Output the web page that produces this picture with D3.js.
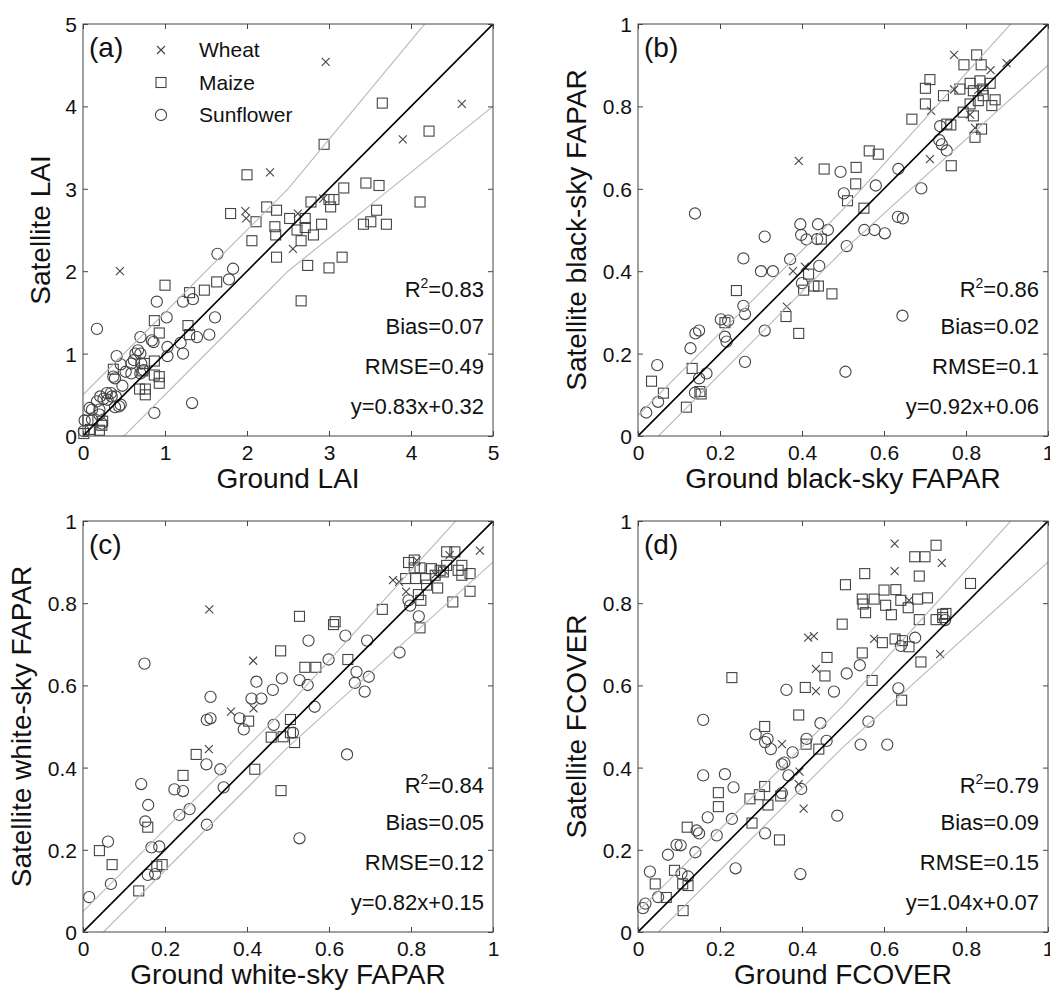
<!DOCTYPE html>
<html>
<head>
<meta charset="utf-8">
<script src="https://cdn.jsdelivr.net/npm/d3@7"></script>
<style>
  html, body { margin: 0; padding: 0; background: #fff; }
  svg { display: block; font-family: "Liberation Sans", Arial, sans-serif; }
</style>
</head>
<body>
<svg id="chart" width="1050" height="994"></svg>
<script>
// ---------------- DATA ----------------
const laiTicks = [0, 1, 2, 3, 4, 5];
const fracTicks = [0, 0.2, 0.4, 0.6, 0.8, 1];
const seriesNames = ["Wheat", "Maize", "Sunflower"];

// (a) LAI  [ground, satellite]
const laiWheat = [[0.45,2.0],[2.96,4.54],[4.62,4.03],[3.90,3.60],[2.28,3.20],[1.98,2.73],[1.99,2.64],[2.62,2.70],[2.56,2.27],[2.93,2.88]];
const laiMaize = [[3.65,4.04],[4.22,3.70],[2.94,3.54],[2.00,3.17],[3.45,3.07],[3.61,3.04],[3.18,3.01],[4.11,2.84],[2.78,2.84],[3.00,2.87],[3.06,2.87],[3.02,2.78],[2.24,2.78],[2.36,2.74],[1.80,2.70],[2.11,2.60],[2.52,2.64],[2.71,2.64],[2.61,2.50],[2.71,2.53],[2.91,2.57],[2.34,2.54],[2.35,2.44],[2.66,2.37],[2.81,2.44],[2.06,2.37],[3.58,2.74],[3.51,2.60],[3.42,2.57],[3.70,2.57],[2.36,2.17],[3.16,2.17],[2.74,2.07],[3.00,2.04],[2.66,1.64],[1.63,1.87],[1.48,1.77],[1.30,1.74],[1.00,1.83],[1.28,1.34],[1.30,1.23],[0.87,1.40],[0.93,1.25],[0.37,0.81],[0.69,0.57],[0.76,0.57],[0.76,0.50],[0.75,0.88],[0.73,0.79],[0.87,0.74],[0.93,0.72],[0.93,0.64],[0.87,0.91],[0.06,0.19],[0.09,0.08],[0.20,0.07],[0.23,0.13],[0.24,0.18],[0.01,0.03]];
const laiSunflower = [[0.17,1.30],[1.64,2.21],[1.83,2.03],[1.78,1.90],[0.90,1.63],[1.22,1.63],[1.34,1.66],[1.02,1.44],[1.61,1.44],[1.54,1.23],[1.39,1.20],[1.19,1.13],[1.22,1.00],[1.03,1.08],[1.03,0.97],[0.86,1.14],[0.70,1.20],[0.84,1.16],[0.41,0.97],[0.67,1.04],[0.64,1.00],[0.70,1.00],[0.62,0.92],[0.59,0.88],[0.46,0.87],[0.71,0.88],[0.59,0.76],[0.70,0.76],[0.74,0.80],[0.39,0.70],[0.48,0.61],[0.46,0.38],[0.39,0.35],[0.87,0.28],[1.33,0.40],[0.37,0.72],[0.29,0.52],[0.35,0.48],[0.40,0.48],[0.21,0.48],[0.17,0.42],[0.30,0.44],[0.08,0.34],[0.20,0.32],[0.44,0.36],[0.20,0.26],[0.11,0.20],[0.23,0.15],[0.02,0.19],[0.01,0.06],[0.11,0.32],[0.34,0.52],[0.25,0.45],[0.52,0.78]];

// (b) black-sky FAPAR
const bsWheat = [[0.392,0.668],[0.771,0.925],[0.899,0.905],[0.860,0.888],[0.771,0.841],[0.715,0.789],[0.712,0.672],[0.822,0.748],[0.378,0.400],[0.407,0.411],[0.363,0.314],[0.830,0.840],[0.810,0.780]];
const bsMaize = [[0.826,0.925],[0.795,0.901],[0.837,0.901],[0.712,0.865],[0.701,0.844],[0.745,0.826],[0.701,0.806],[0.668,0.769],[0.785,0.842],[0.810,0.856],[0.834,0.862],[0.859,0.856],[0.818,0.838],[0.841,0.842],[0.810,0.806],[0.830,0.814],[0.863,0.802],[0.871,0.816],[0.842,0.826],[0.793,0.786],[0.818,0.777],[0.838,0.745],[0.822,0.725],[0.763,0.755],[0.753,0.757],[0.764,0.656],[0.564,0.692],[0.586,0.684],[0.454,0.648],[0.532,0.652],[0.531,0.612],[0.511,0.571],[0.551,0.553],[0.447,0.478],[0.416,0.393],[0.404,0.354],[0.429,0.364],[0.440,0.364],[0.473,0.345],[0.240,0.353],[0.361,0.290],[0.392,0.249],[0.212,0.275],[0.132,0.164],[0.033,0.133],[0.062,0.104],[0.118,0.070],[0.151,0.108],[0.154,0.102]];
const bsSunflower = [[0.139,0.540],[0.737,0.752],[0.735,0.718],[0.741,0.708],[0.753,0.693],[0.635,0.648],[0.494,0.641],[0.691,0.601],[0.580,0.608],[0.502,0.589],[0.396,0.514],[0.439,0.514],[0.463,0.500],[0.398,0.488],[0.411,0.477],[0.437,0.478],[0.552,0.500],[0.577,0.500],[0.602,0.492],[0.634,0.532],[0.646,0.528],[0.309,0.484],[0.509,0.461],[0.257,0.431],[0.371,0.429],[0.300,0.400],[0.329,0.400],[0.442,0.413],[0.400,0.371],[0.257,0.316],[0.261,0.296],[0.202,0.283],[0.220,0.280],[0.212,0.241],[0.216,0.229],[0.645,0.292],[0.309,0.256],[0.140,0.249],[0.149,0.256],[0.128,0.213],[0.261,0.180],[0.506,0.156],[0.047,0.172],[0.167,0.152],[0.149,0.140],[0.139,0.105],[0.049,0.083],[0.020,0.057]];

// (c) white-sky FAPAR
const wsWheat = [[0.308,0.785],[0.415,0.660],[0.361,0.536],[0.416,0.544],[0.307,0.445],[0.968,0.928],[0.756,0.856],[0.771,0.852],[0.788,0.828],[0.814,0.904],[0.894,0.917],[0.860,0.870],[0.880,0.880]];
const wsMaize = [[0.528,0.768],[0.615,0.755],[0.611,0.748],[0.730,0.785],[0.482,0.684],[0.541,0.644],[0.568,0.644],[0.646,0.663],[0.794,0.899],[0.808,0.905],[0.808,0.886],[0.822,0.886],[0.787,0.860],[0.811,0.860],[0.836,0.860],[0.838,0.844],[0.818,0.821],[0.824,0.807],[0.865,0.837],[0.859,0.868],[0.879,0.876],[0.887,0.892],[0.887,0.925],[0.907,0.925],[0.924,0.892],[0.924,0.868],[0.944,0.872],[0.944,0.829],[0.902,0.803],[0.822,0.740],[0.871,0.880],[0.850,0.884],[0.915,0.880],[0.276,0.432],[0.244,0.381],[0.419,0.396],[0.483,0.344],[0.459,0.474],[0.488,0.475],[0.506,0.485],[0.506,0.517],[0.516,0.461],[0.404,0.513],[0.158,0.255],[0.040,0.198],[0.071,0.164],[0.180,0.160],[0.193,0.164],[0.136,0.100]];
const wsSunflower = [[0.150,0.653],[0.640,0.721],[0.550,0.709],[0.693,0.709],[0.599,0.663],[0.667,0.633],[0.663,0.606],[0.697,0.621],[0.687,0.585],[0.772,0.680],[0.794,0.807],[0.798,0.794],[0.819,0.768],[0.528,0.613],[0.548,0.601],[0.485,0.617],[0.423,0.609],[0.463,0.589],[0.411,0.568],[0.435,0.568],[0.382,0.520],[0.392,0.493],[0.465,0.504],[0.565,0.548],[0.512,0.485],[0.311,0.572],[0.302,0.516],[0.311,0.520],[0.644,0.432],[0.528,0.228],[0.301,0.408],[0.335,0.396],[0.343,0.352],[0.223,0.347],[0.244,0.343],[0.260,0.299],[0.235,0.285],[0.302,0.261],[0.142,0.360],[0.159,0.309],[0.152,0.269],[0.167,0.206],[0.186,0.208],[0.158,0.139],[0.061,0.220],[0.068,0.117],[0.015,0.085],[0.176,0.141]];

// (d) FCOVER
const fcWheat = [[0.626,0.945],[0.626,0.878],[0.741,0.898],[0.415,0.716],[0.429,0.720],[0.576,0.713],[0.434,0.640],[0.434,0.586],[0.661,0.807],[0.737,0.676],[0.351,0.457],[0.394,0.390],[0.392,0.360],[0.404,0.300]];
const fcMaize = [[0.727,0.941],[0.675,0.913],[0.700,0.913],[0.553,0.872],[0.686,0.866],[0.506,0.845],[0.811,0.848],[0.600,0.832],[0.629,0.833],[0.547,0.810],[0.576,0.810],[0.604,0.795],[0.641,0.807],[0.682,0.810],[0.706,0.813],[0.549,0.798],[0.555,0.777],[0.618,0.772],[0.659,0.789],[0.686,0.760],[0.727,0.760],[0.743,0.773],[0.751,0.775],[0.743,0.765],[0.498,0.749],[0.461,0.668],[0.547,0.679],[0.596,0.704],[0.627,0.713],[0.645,0.709],[0.661,0.694],[0.690,0.657],[0.456,0.623],[0.571,0.612],[0.408,0.595],[0.229,0.619],[0.643,0.564],[0.392,0.528],[0.309,0.500],[0.410,0.457],[0.441,0.445],[0.309,0.354],[0.296,0.334],[0.273,0.324],[0.317,0.309],[0.348,0.331],[0.196,0.339],[0.196,0.305],[0.278,0.265],[0.345,0.224],[0.120,0.255],[0.089,0.150],[0.042,0.117],[0.069,0.084],[0.109,0.117],[0.122,0.113],[0.110,0.052]];
const fcSunflower = [[0.159,0.516],[0.362,0.589],[0.478,0.585],[0.509,0.629],[0.541,0.649],[0.676,0.716],[0.641,0.696],[0.749,0.759],[0.635,0.593],[0.562,0.512],[0.543,0.456],[0.608,0.456],[0.445,0.508],[0.460,0.465],[0.411,0.470],[0.287,0.481],[0.310,0.462],[0.316,0.470],[0.324,0.445],[0.377,0.437],[0.351,0.408],[0.357,0.412],[0.367,0.381],[0.351,0.338],[0.398,0.348],[0.159,0.381],[0.212,0.384],[0.233,0.352],[0.170,0.279],[0.229,0.275],[0.192,0.235],[0.310,0.240],[0.486,0.283],[0.238,0.155],[0.396,0.141],[0.143,0.247],[0.149,0.240],[0.140,0.194],[0.073,0.188],[0.094,0.212],[0.104,0.211],[0.029,0.147],[0.106,0.142],[0.122,0.135],[0.049,0.085],[0.018,0.069],[0.012,0.058]];

// statistics text per panel: R2, Bias, RMSE, fit
const statsA = ["0.83", "0.07", "0.49", "y=0.83x+0.32"];
const statsB = ["0.86", "0.02", "0.1", "y=0.92x+0.06"];
const statsC = ["0.84", "0.05", "0.12", "y=0.82x+0.15"];
const statsD = ["0.79", "0.09", "0.15", "y=1.04x+0.07"];

// uncertainty envelope: max(absolute, relative * x)
const envelopeLAI = [0.5, 0.2];
const envelopeFrac = [0.05, 0.1];

// ---------------- LAYOUT ----------------
const panels = [
  { tag: "(a)", left: 83,  top: 24,  w: 410, h: 412, max: 5, ticks: laiTicks,
    xLabel: "Ground LAI", yLabel: "Satellite LAI", yLabelOff: 33,
    series: [laiWheat, laiMaize, laiSunflower], stats: statsA, env: envelopeLAI, legend: true },
  { tag: "(b)", left: 638, top: 24,  w: 410, h: 412, max: 1, ticks: fracTicks,
    xLabel: "Ground black-sky FAPAR", yLabel: "Satellite black-sky FAPAR", yLabelOff: 52,
    series: [bsWheat, bsMaize, bsSunflower], stats: statsB, env: envelopeFrac },
  { tag: "(c)", left: 83,  top: 521, w: 410, h: 411, max: 1, ticks: fracTicks,
    xLabel: "Ground white-sky FAPAR", yLabel: "Satellite white-sky FAPAR", yLabelOff: 52,
    series: [wsWheat, wsMaize, wsSunflower], stats: statsC, env: envelopeFrac },
  { tag: "(d)", left: 638, top: 521, w: 410, h: 411, max: 1, ticks: fracTicks,
    xLabel: "Ground FCOVER", yLabel: "Satellite FCOVER", yLabelOff: 52,
    series: [fcWheat, fcMaize, fcSunflower], stats: statsD, env: envelopeFrac }
];

const svg = d3.select("#chart");
const markColor = "#444";
const textColor = "#111";

function drawMarker(sel, type) {
  if (type === 0) {
    sel.append("path").attr("d", "M-4,-4L4,4M-4,4L4,-4")
      .attr("stroke", markColor).attr("stroke-width", 1.1).attr("fill", "none");
  } else if (type === 1) {
    sel.append("rect").attr("x", -5).attr("y", -5).attr("width", 10).attr("height", 10)
      .attr("stroke", markColor).attr("stroke-width", 1.1).attr("fill", "none");
  } else {
    sel.append("circle").attr("r", 5.6)
      .attr("stroke", markColor).attr("stroke-width", 1.1).attr("fill", "none");
  }
}

panels.forEach((p, idx) => {
  const x = d3.scaleLinear().domain([0, p.max]).range([p.left, p.left + p.w]);
  const y = d3.scaleLinear().domain([0, p.max]).range([p.top + p.h, p.top]);
  const g = svg.append("g");

  const clipId = "clip" + idx;
  svg.append("defs").append("clipPath").attr("id", clipId)
    .append("rect").attr("x", p.left).attr("y", p.top).attr("width", p.w).attr("height", p.h);

  // markers
  p.series.forEach((arr, si) => {
    g.append("g").selectAll("g").data(arr).join("g")
      .attr("transform", d => `translate(${x(d[0])},${y(d[1])})`)
      .each(function () { drawMarker(d3.select(this), si); });
  });

  // reference lines
  const lines = g.append("g").attr("clip-path", `url(#${clipId})`);
  const [abs, rel] = p.env;
  const brk = abs / rel;
  const xs = [0, brk, p.max];
  const line = d3.line().x(d => x(d[0])).y(d => y(d[1]));
  lines.append("path").attr("d", line(xs.map(v => [v, v + Math.max(abs, rel * v)])))
    .attr("stroke", "#b8b8b8").attr("stroke-width", 1.1).attr("fill", "none");
  lines.append("path").attr("d", line(xs.map(v => [v, v - Math.max(abs, rel * v)])))
    .attr("stroke", "#b8b8b8").attr("stroke-width", 1.1).attr("fill", "none");
  lines.append("path").attr("d", line([[0, 0], [p.max, p.max]]))
    .attr("stroke", "#000").attr("stroke-width", 1.6).attr("fill", "none");

  // axes (inward ticks on all four sides)
  const fmt = d => d3.format("~g")(d);
  const tickLen = 5;
  const axColor = "#444";
  const bottom = g.append("g").attr("transform", `translate(0,${p.top + p.h})`)
    .call(d3.axisBottom(x).tickValues(p.ticks).tickFormat(fmt).tickSizeInner(-tickLen).tickSizeOuter(0).tickPadding(9));
  const top = g.append("g").attr("transform", `translate(0,${p.top})`)
    .call(d3.axisTop(x).tickValues(p.ticks).tickFormat("").tickSizeInner(-tickLen).tickSizeOuter(0));
  const left = g.append("g").attr("transform", `translate(${p.left},0)`)
    .call(d3.axisLeft(y).tickValues(p.ticks).tickFormat(fmt).tickSizeInner(-tickLen).tickSizeOuter(0).tickPadding(6));
  const right = g.append("g").attr("transform", `translate(${p.left + p.w},0)`)
    .call(d3.axisRight(y).tickValues(p.ticks).tickFormat("").tickSizeInner(-tickLen).tickSizeOuter(0));
  [bottom, top, left, right].forEach(a => {
    a.select(".domain").remove();
    a.selectAll("line").attr("stroke", axColor);
    a.selectAll("text").attr("font-size", 21).attr("fill", textColor)
      .attr("font-family", '"Liberation Sans", Arial, sans-serif');
  });
  left.selectAll("text").attr("dy", "0.36em");
  bottom.selectAll("text").attr("dy", "0.72em");
  g.append("rect").attr("x", p.left).attr("y", p.top).attr("width", p.w).attr("height", p.h)
    .attr("fill", "none").attr("stroke", axColor).attr("stroke-width", 1);

  // axis labels
  g.append("text").attr("x", p.left + p.w / 2).attr("y", p.top + p.h + 52)
    .attr("text-anchor", "middle").attr("font-size", 28).attr("fill", textColor).text(p.xLabel);
  g.append("text")
    .attr("transform", `translate(${p.left - p.yLabelOff},${p.top + p.h / 2}) rotate(-90)`)
    .attr("text-anchor", "middle").attr("font-size", 28).attr("fill", textColor).text(p.yLabel);

  // panel tag
  g.append("text").attr("x", p.left + 6).attr("y", p.top + 33)
    .attr("font-size", 28).attr("fill", textColor).text(p.tag);

  // stats
  const sx = p.left + p.w - 9;
  const base = p.top + p.h;
  const st = p.stats;
  const r2 = g.append("text").attr("x", sx).attr("y", base - 139).attr("text-anchor", "end")
    .attr("font-size", 22).attr("fill", textColor);
  r2.append("tspan").text("R");
  r2.append("tspan").attr("font-size", 14).attr("dy", -9).text("2");
  r2.append("tspan").attr("dy", 9).text("=" + st[0]);
  g.append("text").attr("x", sx).attr("y", base - 102).attr("text-anchor", "end")
    .attr("font-size", 22).attr("fill", textColor).text("Bias=" + st[1]);
  g.append("text").attr("x", sx).attr("y", base - 62).attr("text-anchor", "end")
    .attr("font-size", 22).attr("fill", textColor).text("RMSE=" + st[2]);
  g.append("text").attr("x", sx).attr("y", base - 22).attr("text-anchor", "end")
    .attr("font-size", 22).attr("fill", textColor).text(st[3]);

  // legend
  if (p.legend) {
    const lg = g.append("g");
    seriesNames.forEach((name, i) => {
      const row = lg.append("g").attr("transform", `translate(${p.left + 78},${p.top + 26 + i * 32.5})`);
      drawMarker(row, i);
      row.append("text").attr("x", 38).attr("y", 7).attr("font-size", 21)
        .attr("fill", textColor).text(name);
    });
  }
});
</script>
</body>
</html>
